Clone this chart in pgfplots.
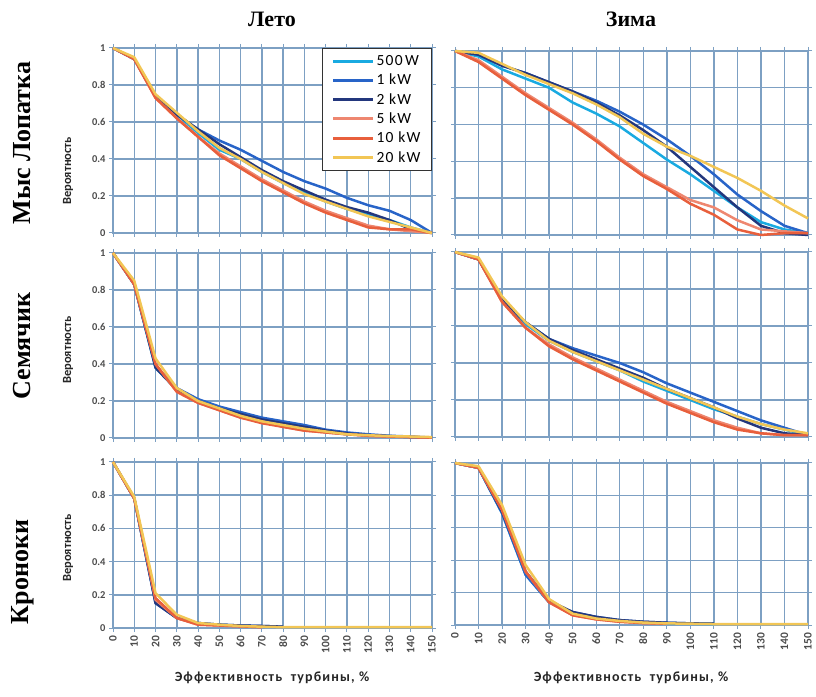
\documentclass[border=0pt]{standalone}
\usepackage{pgfplots}
\usepackage{pgfplotstable}
\pgfplotsset{compat=1.18}
\usepackage{fontspec}
\setmainfont{Liberation Serif}
\newfontfamily\tickfont{Carlito}
\newfontfamily\labfont[LetterSpace=8]{Carlito}

\definecolor{gridc}{RGB}{125,160,195}
\definecolor{cA}{RGB}{25,170,225}
\definecolor{cB}{RGB}{40,100,200}
\definecolor{cC}{RGB}{35,55,125}
\definecolor{cD}{RGB}{238,135,112}
\definecolor{cE}{RGB}{232,95,60}
\definecolor{cF}{RGB}{242,198,85}

\pgfplotstableread{
x a b c d e f
0 1 1 1 1 1 1
10 0.94 0.94 0.94 0.94 0.94 0.95
20 0.74 0.74 0.74 0.73 0.73 0.75
30 0.64 0.64 0.64 0.62 0.62 0.65
40 0.54 0.56 0.56 0.52 0.52 0.55
50 0.45 0.50 0.48 0.43 0.42 0.46
60 0.40 0.45 0.41 0.36 0.35 0.40
70 0.33 0.39 0.34 0.29 0.28 0.33
80 0.27 0.33 0.28 0.23 0.22 0.27
90 0.22 0.28 0.23 0.17 0.16 0.21
100 0.17 0.24 0.18 0.12 0.11 0.17
110 0.13 0.19 0.14 0.08 0.07 0.13
120 0.10 0.15 0.11 0.04 0.03 0.09
130 0.07 0.12 0.07 0.02 0.02 0.06
140 0.03 0.07 0.02 0.01 0.02 0.03
150 0 0 0 0 0 0
}\tTL

\pgfplotstableread{
x a b c d e f
0 1 1 1 1 1 1
10 0.97 0.98 0.98 0.95 0.94 0.99
20 0.90 0.92 0.92 0.86 0.85 0.93
30 0.85 0.88 0.88 0.77 0.76 0.87
40 0.80 0.83 0.83 0.69 0.68 0.82
50 0.72 0.78 0.78 0.61 0.60 0.77
60 0.66 0.73 0.72 0.52 0.51 0.71
70 0.59 0.67 0.65 0.42 0.41 0.64
80 0.50 0.60 0.57 0.33 0.32 0.55
90 0.41 0.52 0.48 0.26 0.25 0.48
100 0.33 0.43 0.37 0.19 0.17 0.43
110 0.24 0.33 0.26 0.15 0.11 0.37
120 0.15 0.22 0.15 0.08 0.03 0.31
130 0.07 0.13 0.05 0.03 0.00 0.24
140 0.03 0.05 0.01 0.02 0.01 0.16
150 0.01 0.01 0.00 0.01 0.01 0.09
}\tTR

\pgfplotstableread{
x a b c d e f
0 1 1 1 1 1 1
10 0.83 0.83 0.83 0.83 0.83 0.85
20 0.38 0.39 0.38 0.40 0.40 0.43
30 0.26 0.27 0.26 0.25 0.25 0.27
40 0.20 0.21 0.20 0.19 0.19 0.20
50 0.16 0.17 0.16 0.15 0.15 0.16
60 0.12 0.14 0.13 0.11 0.11 0.12
70 0.10 0.11 0.10 0.09 0.08 0.09
80 0.07 0.09 0.08 0.06 0.06 0.07
90 0.05 0.07 0.06 0.04 0.04 0.05
100 0.035 0.045 0.04 0.03 0.03 0.035
110 0.02 0.03 0.025 0.02 0.02 0.02
120 0.015 0.02 0.015 0.012 0.012 0.015
130 0.01 0.012 0.01 0.008 0.008 0.01
140 0.005 0.008 0.005 0.005 0.005 0.008
150 0.002 0.002 0.002 0.002 0.002 0.005
}\tML

\pgfplotstableread{
x a b c d e f
0 1 1 1 1 1 1
10 0.96 0.96 0.96 0.96 0.96 0.97
20 0.74 0.74 0.74 0.73 0.73 0.76
30 0.61 0.62 0.62 0.59 0.59 0.62
40 0.52 0.53 0.53 0.50 0.49 0.52
50 0.46 0.48 0.47 0.43 0.42 0.46
60 0.41 0.44 0.42 0.37 0.36 0.41
70 0.36 0.40 0.37 0.31 0.30 0.36
80 0.30 0.35 0.32 0.25 0.24 0.31
90 0.25 0.29 0.26 0.19 0.18 0.26
100 0.20 0.24 0.21 0.14 0.13 0.21
110 0.15 0.19 0.16 0.09 0.08 0.16
120 0.11 0.14 0.10 0.05 0.04 0.11
130 0.07 0.09 0.05 0.02 0.02 0.07
140 0.04 0.05 0.02 0.01 0.01 0.04
150 0.01 0.01 0.01 0.01 0.01 0.02
}\tMR

\pgfplotstableread{
x a b c d e f
0 1 1 1 1 1 1
10 0.78 0.78 0.78 0.78 0.78 0.79
20 0.16 0.15 0.15 0.17 0.18 0.21
30 0.06 0.06 0.06 0.06 0.06 0.08
40 0.025 0.03 0.03 0.02 0.02 0.03
50 0.02 0.02 0.02 0.015 0.015 0.02
60 0.012 0.015 0.015 0.01 0.01 0.012
70 0.008 0.012 0.012 0.005 0.005 0.008
80 nan 0.008 0.008 nan nan 0.005
90 nan nan nan nan nan 0.005
100 nan nan nan nan nan 0.005
110 nan nan nan nan nan 0.005
120 nan nan nan nan nan 0.005
130 nan nan nan nan nan 0.005
140 nan nan nan nan nan 0.005
150 nan nan nan nan nan 0.005
}\tBL

\pgfplotstableread{
x a b c d e f
0 1 1 1 1 1 1
10 0.97 0.97 0.97 0.97 0.97 0.98
20 0.69 0.69 0.70 0.71 0.71 0.74
30 0.31 0.31 0.33 0.33 0.33 0.37
40 0.14 0.14 0.15 0.14 0.14 0.16
50 0.07 0.08 0.08 0.06 0.06 0.07
60 0.04 0.05 0.05 0.035 0.035 0.04
70 0.027 0.03 0.03 0.02 0.02 0.025
80 0.016 0.02 0.02 0.012 0.012 0.015
90 0.01 0.014 0.014 0.008 0.008 0.01
100 0.008 0.01 0.01 nan nan 0.008
110 0.006 0.008 0.008 nan nan 0.006
120 nan nan nan nan nan 0.005
130 nan nan nan nan nan 0.005
140 nan nan nan nan nan 0.005
150 nan nan nan nan nan 0.005
}\tBR

\pgfplotsset{
  panel/.style={
    scale only axis, anchor=south west, clip=false,
    xmin=0, xmax=150, ymin=0, ymax=1,
    xtick={0,10,20,30,40,50,60,70,80,90,100,110,120,130,140,150},
    ytick={0,0.2,0.4,0.6,0.8,1},
    xticklabels={}, yticklabels={},
    grid=major, major grid style={gridc, line width=1.4pt},
    axis line style={gridc, line width=1.4pt},
    tick style={gridc, line width=1pt},
    tick align=outside, major tick length=4pt,
    every axis plot/.append style={line width=2.5pt, line join=round, mark=none},
  },
  lefty/.style={
    yticklabels={0,0.2,0.4,0.6,0.8,1},
    yticklabel style={font=\tickfont\bfseries\fontsize{10.5}{12}\selectfont, text=black!70},
  },
  botx/.style={
    xticklabels={0,10,20,30,40,50,60,70,80,90,100,110,120,130,140,150},
    xticklabel style={rotate=90, anchor=east, font=\tickfont\bfseries\fontsize{11.5}{13}\selectfont, text=black!70},
  },
}

\newcommand{\sixplots}[1]{%
  \addplot[cA] table[x=x,y=a] {#1};
  \addplot[cB] table[x=x,y=b] {#1};
  \addplot[cC] table[x=x,y=c] {#1};
  \addplot[cD] table[x=x,y=d] {#1};
  \addplot[cE] table[x=x,y=e] {#1};
  \addplot[cF] table[x=x,y=f] {#1};
}

\begin{document}
\begin{tikzpicture}[x=1pt,y=1pt]
\useasboundingbox (0,0) rectangle (816,696);

% top-left
\begin{axis}[panel, lefty, at={(113pt,463pt)}, width=319pt, height=185pt,
  legend style={at={(1,1)}, anchor=north east, draw=black!80, line width=1.3pt,
    font=\labfont\fontsize{15.5}{18}\selectfont, fill=white, row sep=3pt,
    inner xsep=9pt, inner ysep=5pt},
  legend cell align=left,
  legend image code/.code={\draw[#1, line width=2.8pt] (0pt,0pt) -- (40pt,0pt);}]
\sixplots{\tTL}
\legend{500\,W, 1 kW, 2 kW, 5 kW, 10 kW, 20 kW}
\end{axis}

% top-right
\begin{axis}[panel, at={(455pt,461pt)}, width=353pt, height=184pt]
\sixplots{\tTR}
\end{axis}

% middle-left
\begin{axis}[panel, lefty, at={(113pt,258pt)}, width=319pt, height=185pt]
\sixplots{\tML}
\end{axis}

% middle-right
\begin{axis}[panel, at={(455pt,259pt)}, width=353pt, height=185pt]
\sixplots{\tMR}
\end{axis}

% bottom-left
\begin{axis}[panel, lefty, botx, at={(113pt,68pt)}, width=319pt, height=166pt]
\sixplots{\tBL}
\end{axis}

% bottom-right
\begin{axis}[panel, botx, at={(455pt,71pt)}, width=353pt, height=162pt]
\sixplots{\tBR}
\end{axis}

% column titles
\node[font=\bfseries\fontsize{22}{24}\selectfont] at (272,677) {Лето};
\node[font=\bfseries\fontsize{22}{24}\selectfont] at (631,677) {Зима};

% row labels
\node[rotate=90, font=\bfseries\fontsize{26}{28}\selectfont] at (22,553) {Мыс Лопатка};
\node[rotate=90, font=\bfseries\fontsize{26}{28}\selectfont] at (22,350) {Семячик};
\node[rotate=90, font=\bfseries\fontsize{26}{28}\selectfont] at (23,124) {Кроноки};

% y labels
\node[rotate=90, font=\tickfont\bfseries\fontsize{12.5}{14}\selectfont, text=black!85] at (68,525) {Вероятность};
\node[rotate=90, font=\tickfont\bfseries\fontsize{12.5}{14}\selectfont, text=black!85] at (68,346) {Вероятность};
\node[rotate=90, font=\tickfont\bfseries\fontsize{12.5}{14}\selectfont, text=black!85] at (68,148) {Вероятность};

% x labels
\node[font=\labfont\bfseries\fontsize{14}{16}\selectfont, text=black!85] at (272,18) {Эффективность\ \ турбины, \%};
\node[font=\labfont\bfseries\fontsize{14}{16}\selectfont, text=black!85] at (631,18) {Эффективность\ \ турбины, \%};
\end{tikzpicture}
\end{document}
